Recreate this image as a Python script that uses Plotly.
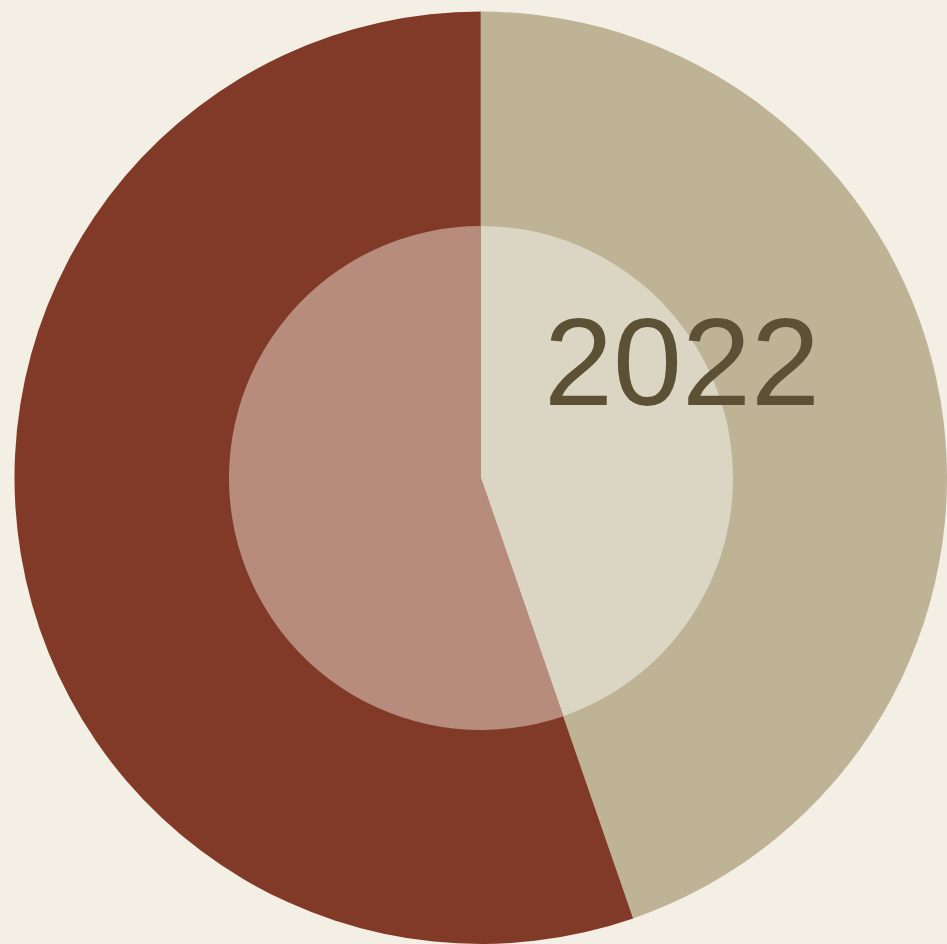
import plotly.graph_objects as go

labels = ["Beige", "Brown"]
values = [44.7, 55.3]
outer_colors = ["#BFB396", "#823A28"]
inner_colors = ["#DBD6C4", "#B88C7C"]
year_label = "2022"

W, H = 947, 944
cx, cy = 481, 478
R_out, R_in = 466.5, 252

fig = go.Figure()
fig.add_trace(go.Pie(
    labels=labels, values=values, sort=False, direction="clockwise", rotation=0,
    marker=dict(colors=outer_colors, line=dict(width=0)),
    textinfo="none", hoverinfo="none", showlegend=False,
    domain=dict(x=[(cx - R_out) / W, min(1, (cx + R_out) / W)],
                y=[max(0, 1 - (cy + R_out) / H), 1 - (cy - R_out) / H]),
))
fig.add_trace(go.Pie(
    labels=labels, values=values, sort=False, direction="clockwise", rotation=0,
    marker=dict(colors=inner_colors, line=dict(width=0)),
    textinfo="none", hoverinfo="none", showlegend=False,
    domain=dict(x=[(cx - R_in) / W, (cx + R_in) / W],
                y=[1 - (cy + R_in) / H, 1 - (cy - R_in) / H]),
))
fig.add_annotation(
    text=year_label, x=682 / W, y=1 - 362 / H, xref="paper", yref="paper",
    xanchor="center", yanchor="middle", showarrow=False,
    font=dict(family="Liberation Sans, Arial, sans-serif", size=124, color="#5C5035"),
)
fig.update_layout(
    width=W, height=H, margin=dict(l=0, r=0, t=0, b=0),
    paper_bgcolor="#F3EFE4", plot_bgcolor="#F3EFE4",
)
fig.write_html(
    "out.html",
    config={"displayModeBar": False},
    post_script="document.body.style.margin='0';document.body.style.background='#F3EFE4';",
)
